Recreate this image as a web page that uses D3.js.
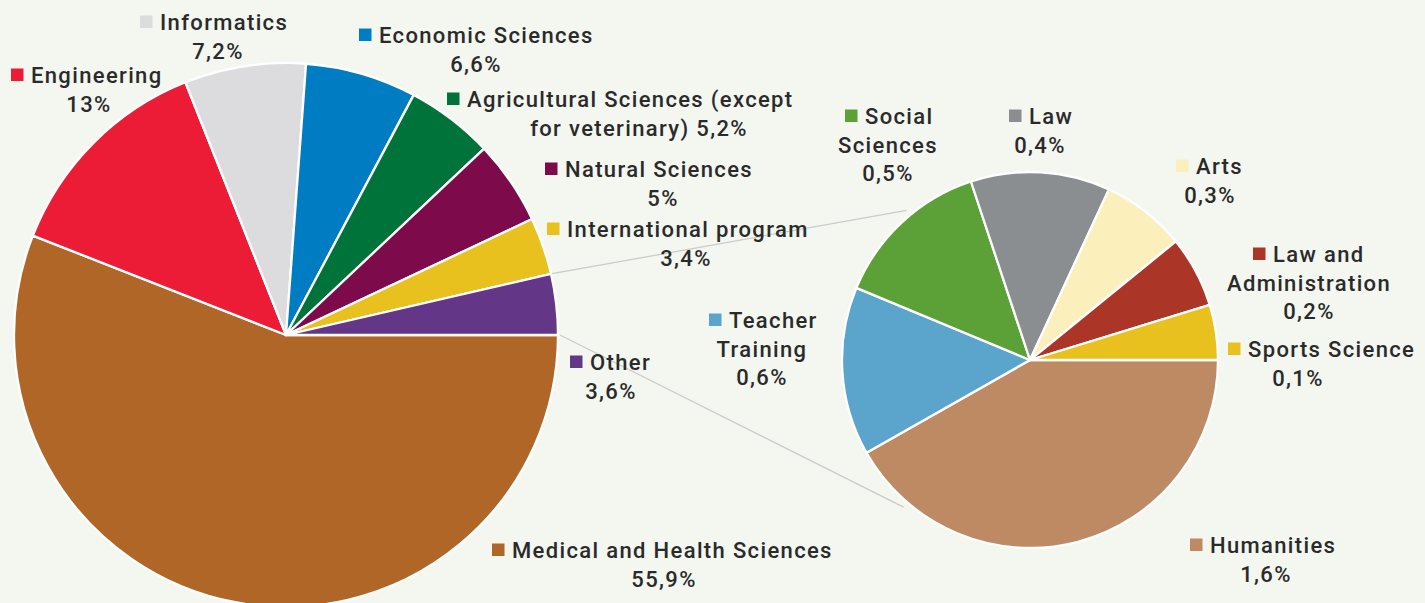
<!DOCTYPE html>
<html>
<head>
<meta charset="utf-8">
<script src="https://cdn.jsdelivr.net/npm/d3@7"></script>
<style>
  body { margin: 0; background: #f3f7f0; }
  text { font-family: Roboto, "Open Sans", sans-serif; font-weight: 500; fill: #2b2a2b; }
</style>
</head>
<body>
<svg id="chart"></svg>
<script>
// main pie: fields of study
var mainNames = ["Medical and Health Sciences", "Engineering", "Informatics", "Economic Sciences",
  "Agricultural Sciences (except for veterinary)", "Natural Sciences", "International program", "Other"];
var mainValues = [55.9, 13, 7.2, 6.6, 5.2, 5, 3.4, 3.6];
var mainColors = ["#b06627", "#ec1c36", "#dcdcde", "#007cc3", "#00733a", "#7d0b4b", "#e8c11f", "#633687"];

// breakdown of "Other"
var otherNames = ["Humanities", "Teacher Training", "Social Sciences", "Law", "Arts",
  "Law and Administration", "Sports Science"];
var otherValues = [1.5, 0.52, 0.49, 0.43, 0.26, 0.22, 0.17];   // slice sizes as drawn
var otherPrinted = [1.6, 0.6, 0.5, 0.4, 0.3, 0.2, 0.1];         // percentages printed on labels
var otherColors = ["#bd8a63", "#5ba4cc", "#5ca038", "#8b8e91", "#fbefbb", "#ab3527", "#e8c11f"];

var width = 1425, height = 603;
var svg = d3.select("#chart").attr("width", width).attr("height", height);
svg.append("rect").attr("width", width).attr("height", height).attr("fill", "#f3f7f0");

var c1 = {x: 286, y: 335, r: 272},
    c2 = {x: 1030, y: 360, r: 188};

var pie = d3.pie().sort(null).startAngle(Math.PI / 2).endAngle(Math.PI / 2 + 2 * Math.PI);

var mainArcs = pie(mainValues),
    otherArcs = pie(otherValues);

//connector lines between the pies
var otherArc = mainArcs[mainArcs.length - 1];
function pt(c, r, a) { return [c.x + r * Math.sin(a), c.y - r * Math.cos(a)]; }
var links = [
  [pt(c1, c1.r + 1, otherArc.startAngle), pt(c2, c2.r + 6, -0.69)],
  [pt(c1, c1.r + 2, otherArc.endAngle), pt(c2, c2.r + 6, Math.PI + 0.71)]
];
svg.selectAll(".link").data(links).enter().append("line")
  .attr("class", "link")
  .attr("x1", function(d) { return d[0][0]; }).attr("y1", function(d) { return d[0][1]; })
  .attr("x2", function(d) { return d[1][0]; }).attr("y2", function(d) { return d[1][1]; })
  .attr("stroke", "#c9cccb").attr("stroke-width", 1.3);

function drawPie(arcs, c, colors) {
  var arc = d3.arc().innerRadius(0).outerRadius(c.r);
  svg.append("g")
    .attr("transform", "translate(" + c.x + "," + c.y + ")")
    .selectAll("path")
    .data(arcs)
    .enter().append("path")
    .attr("d", arc)
    .attr("fill", function(d, i) { return colors[i]; })
    .attr("stroke", "#ffffff")
    .attr("stroke-width", 2.3)
    .attr("stroke-linejoin", "round");
}
drawPie(mainArcs, c1, mainColors);
drawPie(otherArcs, c2, otherColors);

function pct(v) { return String(v).replace(".", ",") + "%"; }

// label placement: sx = square left, y = first baseline, cx = centre of following lines
var mainLayout = [
  {sx: 492, y: 558, cx: 664},
  {sx: 11, y: 83, cx: 89},
  {sx: 140, y: 30, cx: 218},
  {sx: 359, y: 43, cx: 476},
  {sx: 447, y: 107, cx: 639, lines: ["Agricultural Sciences (except", "for veterinary)"], inline: true},
  {sx: 545, y: 177, cx: 663},
  {sx: 547, y: 237, cx: 686},
  {sx: 570, y: 370, cx: 611}
];
var otherLayout = [
  {sx: 1190, y: 553, cx: 1266},
  {sx: 709, y: 328, cx: 762, lines: ["Teacher", "Training"]},
  {sx: 845, y: 124, cx: 888, lines: ["Social", "Sciences"]},
  {sx: 1009, y: 124, cx: 1040},
  {sx: 1176, y: 174, cx: 1210},
  {sx: 1253, y: 262, cx: 1309, lines: ["Law and", "Administration"]},
  {sx: 1228, y: 357, cx: 1298}
];

function drawLabels(names, printed, colors, layout) {
  var lh = 28.7;
  names.forEach(function(name, i) {
    var L = layout[i];
    var lines = (L.lines || [name]).slice();
    if (L.inline) lines[lines.length - 1] += " " + pct(printed[i]);
    else lines.push(pct(printed[i]));
    var g = svg.append("g").attr("class", "label");
    g.append("rect")
      .attr("x", L.sx).attr("y", L.y - 14.5)
      .attr("width", 12.5).attr("height", 12.5)
      .attr("fill", colors[i]);
    lines.forEach(function(t, j) {
      g.append("text")
        .attr("x", j === 0 ? L.sx + 20 : L.cx)
        .attr("y", L.y + j * lh)
        .attr("text-anchor", j === 0 ? "start" : "middle")
        .attr("font-size", 22)
        .attr("letter-spacing", 1.35)
        .text(t);
    });
  });
}
drawLabels(mainNames, mainValues, mainColors, mainLayout);
drawLabels(otherNames, otherPrinted, otherColors, otherLayout);
</script>
</body>
</html>
